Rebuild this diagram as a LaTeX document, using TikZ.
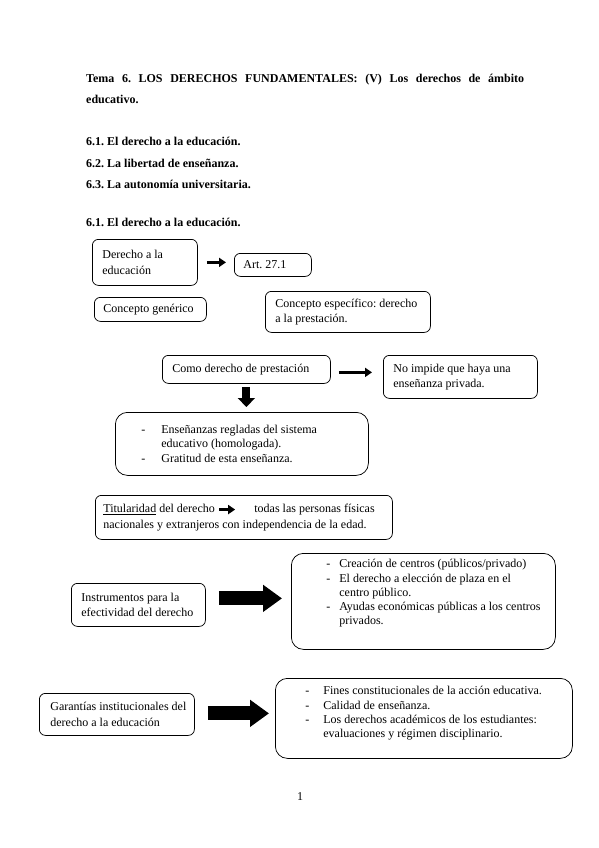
\documentclass[tikz,border=0pt]{standalone}
\usepackage{fontspec}
\setmainfont{Liberation Serif}
\usetikzlibrary{arrows.meta}
\frenchspacing

% texto de una caja: ancho, margen izquierdo, texto
\newcommand{\dentro}[3]{\hspace*{#2}\parbox[c]{\dimexpr#1-#2\relax}{\raggedright #3}}
% lo mismo, pegado arriba: ancho, alto, margen, hueco de arriba, texto
\newcommand{\arriba}[5]{\hspace*{#3}\parbox[c][#2][t]{\dimexpr#1-#3\relax}{\vspace*{#4}\raggedright #5}}
\newcommand{\guion}[1]{\par\hangindent=#1\hangafter=1\noindent\makebox[#1][l]{-}}
\newcommand{\flechita}{\tikz[baseline=-3pt]\draw[line width=2.5pt,-{Triangle[length=7pt,width=9pt]}] (0pt,0pt) -- (16pt,0pt);}

\begin{document}
\begin{tikzpicture}[x=1pt,y=-1pt,
    titulo/.style={font=\bfseries\fontsize{12}{14}\selectfont, inner sep=0pt, anchor=base west},
    caja/.style={draw, line width=0.75pt, rounded corners=6pt, inner sep=0pt,
      anchor=north west, font=\fontsize{12}{15.5}\selectfont},
    lista/.style={caja, rounded corners=12pt, font=\fontsize{12}{14.3}\selectfont},
    flechita/.style={line width=2.5pt, -{Triangle[length=7pt,width=9pt]}},
    flechabaja/.style={line width=8pt, -{Triangle[length=9pt,width=17pt]}},
    flechota/.style={line width=14pt, -{Triangle[length=19pt,width=26pt]}}]
    \useasboundingbox (0,0) rectangle (599,848);

    % encabezados
    \node[titulo] (tema) at (86,83) {\makebox[438pt][s]{Tema 6. LOS DERECHOS FUNDAMENTALES: (V) Los derechos de ámbito}};
    \node[titulo] (educativo) at (86,103) {educativo.};
    \node[titulo] (uno) at (86,146) {6.1. El derecho a la educación.};
    \node[titulo] (dos) at (86,167) {6.2. La libertad de enseñanza.};
    \node[titulo] (tres) at (86,188) {6.3. La autonomía universitaria.};
    \node[titulo] (apartado) at (86,226) {6.1. El derecho a la educación.};

    % cajas de arriba
    \node[caja, minimum height=46pt] (derecho) at (92,239)
      {\dentro{105pt}{10pt}{Derecho a la\newline educación}};
    \node[caja, minimum height=23pt] (art) at (234,253)
      {\dentro{77pt}{9pt}{Art. 27.1}};
    \node[caja, minimum height=24pt] (generico) at (94,297)
      {\dentro{112pt}{9pt}{Concepto genérico}};
    \node[caja, minimum height=41pt] (especifico) at (265,291)
      {\dentro{165pt}{10pt}{Concepto específico: derecho\newline a la prestación.}};

    % prestacion
    \node[caja, minimum height=28pt] (prestacion) at (162,355)
      {\dentro{168pt}{10pt}{Como derecho de prestación}};
    \node[caja, minimum height=43pt] (privada) at (383,355)
      {\dentro{154pt}{10pt}{No impide que haya una\newline enseñanza privada.}};
    \node[lista, minimum height=63pt] (ensenanzas) at (115,412)
      {\dentro{253pt}{26pt}{\guion{20pt}Enseñanzas regladas del sistema\newline educativo (homologada).
       \guion{20pt}Gratitud de esta enseñanza.}};

    \node[caja, minimum height=44pt] (titularidad) at (95,495)
      {\dentro{297pt}{8pt}{\underline{Titularidad} del derecho \flechita\hspace{18pt}todas las personas físicas\newline nacionales y extranjeros con independencia de la edad.}};

    % instrumentos y garantias
    \node[caja, minimum height=43pt] (instrumentos) at (71,583)
      {\dentro{134pt}{10pt}{Instrumentos para la\newline efectividad del derecho}};
    \node[lista, minimum height=96pt] (creacion) at (291,553)
      {\arriba{264pt}{96pt}{35pt}{6pt}{\guion{13pt}Creación de centros (públicos/privado)
       \guion{13pt}El derecho a elección de plaza en el\newline centro público.
       \guion{13pt}Ayudas económicas públicas a los centros\newline privados.}};
    \node[caja, minimum height=42pt] (garantias) at (39,693)
      {\dentro{155pt}{11pt}{Garantías institucionales del\newline derecho a la educación}};
    \node[lista, minimum height=80pt] (fines) at (275,678)
      {\arriba{297pt}{80pt}{30pt}{8pt}{\guion{18pt}Fines constitucionales de la acción educativa.
       \guion{18pt}Calidad de enseñanza.
       \guion{18pt}Los derechos académicos de los estudiantes:\newline evaluaciones y régimen disciplinario.}};

    % flechas
    \draw[flechita, shorten <=9pt, shorten >=8pt] (derecho.east) -- (derecho.east -| art.west);
    \draw[flechita, shorten <=8pt, shorten >=11pt] ([yshift=-3pt]prestacion.east) -- ([yshift=-3pt]prestacion.east -| privada.west);
    \draw[flechabaja, shorten <=3pt, shorten >=5pt] (prestacion.south) -- (prestacion.south |- ensenanzas.north);
    \draw[flechota, shorten <=13pt, shorten >=9pt] ([yshift=6.5pt]instrumentos.east) -- ([yshift=6.5pt]instrumentos.east -| creacion.west);
    \draw[flechota, shorten <=13pt, shorten >=6pt] ([yshift=1pt]garantias.east) -- ([yshift=1pt]garantias.east -| fines.west);

    \node[font=\fontsize{12}{14}\selectfont] (pagina) at (300,797) {1};
\end{tikzpicture}
\end{document}
